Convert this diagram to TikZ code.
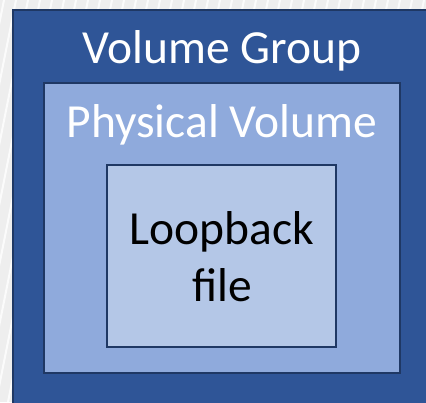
\documentclass[tikz,border=0pt]{standalone}
\usepackage{fontspec}
\setmainfont{Carlito}
\usetikzlibrary{positioning}
\definecolor{vgblue}{HTML}{2F5597}
\definecolor{pvblue}{HTML}{8FAADC}
\definecolor{lfblue}{HTML}{B4C7E7}
\definecolor{edgeblue}{HTML}{1F3864}
\definecolor{bggray}{HTML}{EEEEEE}
\tikzset{layer/.style={draw=edgeblue,line width=2.5pt},lab/.style={font=\fontsize{47.5}{52}\selectfont,inner sep=0pt,anchor=base}}

\begin{document}
\begin{tikzpicture}[x=1pt,y=-1pt]
\useasboundingbox (0,0) rectangle (426,402);
\fill[bggray] (0,0) rectangle (426,402);
\begin{scope}
\clip (0,0) rectangle (426,402);
\foreach \s in {-400,-388,...,440}{\draw[white,line width=2pt,opacity=.8] (\s,402)--(\s+80,0);}
\end{scope}
\filldraw[layer,fill=vgblue] (13,10) rectangle (440,420);
\filldraw[layer,fill=pvblue] (44,83) rectangle (400,373);
\filldraw[layer,fill=lfblue,line width=2pt] (107,165) rectangle (336,347);
\node[lab,white] (vg) at (222,63) {Volume Group};
\node[lab,white] (pv) at (222,137) {Physical Volume};
\node[lab] (lb) at (222,244) {Loopback};
\node[lab] (lf) at (222,301) {file};
\end{tikzpicture}
\end{document}
